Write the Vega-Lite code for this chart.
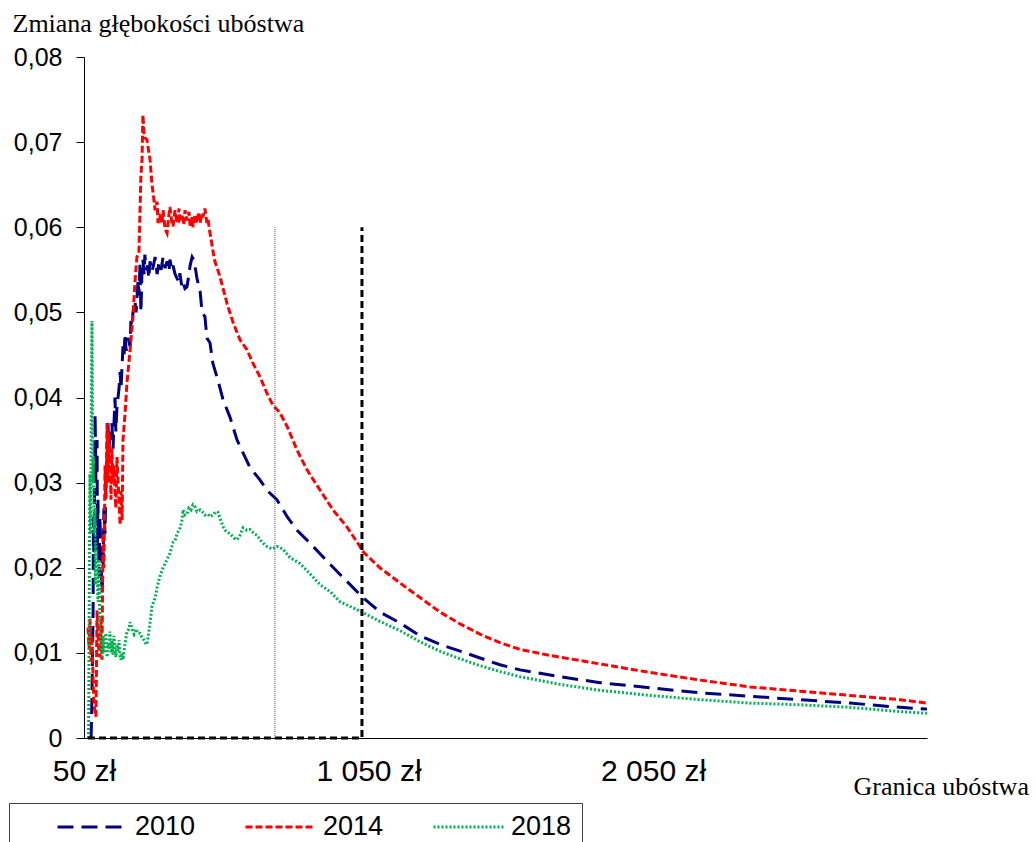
{
  "$schema": "https://vega.github.io/schema/vega-lite/v6.json",
  "autosize": {"type": "none"},
  "padding": {"left": 84, "top": 57, "right": 109, "bottom": 104},
  "width": 843,
  "height": 681,
  "background": "white",
  "config": {"view": {"stroke": null}},
  "datasets": {
    "curves": [
      {"year":"2010","zl":75,"value":0},{"year":"2010","zl":78,"value":0.005},{"year":"2010","zl":82,"value":0.015},{"year":"2010","zl":83,"value":0.026},{"year":"2010","zl":85,"value":0.02},{"year":"2010","zl":89,"value":0.038},{"year":"2010","zl":92,"value":0.03},{"year":"2010","zl":96,"value":0.035},{"year":"2010","zl":97,"value":0.022},{"year":"2010","zl":99,"value":0.028},{"year":"2010","zl":103,"value":0.019},{"year":"2010","zl":106,"value":0.026},{"year":"2010","zl":110,"value":0.021},{"year":"2010","zl":113,"value":0.017},{"year":"2010","zl":117,"value":0.02},{"year":"2010","zl":120,"value":0.027},{"year":"2010","zl":124,"value":0.024},{"year":"2010","zl":127,"value":0.03},{"year":"2010","zl":131,"value":0.033},{"year":"2010","zl":134,"value":0.037},{"year":"2010","zl":138,"value":0.034},{"year":"2010","zl":141,"value":0.036},{"year":"2010","zl":145,"value":0.035},{"year":"2010","zl":148,"value":0.037},{"year":"2010","zl":152,"value":0.034},{"year":"2010","zl":159,"value":0.04},{"year":"2010","zl":162,"value":0.036},{"year":"2010","zl":166,"value":0.039},{"year":"2010","zl":173,"value":0.041},{"year":"2010","zl":177,"value":0.043},{"year":"2010","zl":180,"value":0.041},{"year":"2010","zl":187,"value":0.046},{"year":"2010","zl":191,"value":0.045},{"year":"2010","zl":194,"value":0.0475},{"year":"2010","zl":198,"value":0.0455},{"year":"2010","zl":205,"value":0.047},{"year":"2010","zl":212,"value":0.046},{"year":"2010","zl":215,"value":0.049},{"year":"2010","zl":219,"value":0.0483},{"year":"2010","zl":222,"value":0.05},{"year":"2010","zl":226,"value":0.0505},{"year":"2010","zl":229,"value":0.0514},{"year":"2010","zl":233,"value":0.05},{"year":"2010","zl":240,"value":0.0538},{"year":"2010","zl":243,"value":0.052},{"year":"2010","zl":247,"value":0.0558},{"year":"2010","zl":250,"value":0.05},{"year":"2010","zl":254,"value":0.055},{"year":"2010","zl":257,"value":0.0562},{"year":"2010","zl":261,"value":0.0545},{"year":"2010","zl":264,"value":0.0568},{"year":"2010","zl":268,"value":0.055},{"year":"2010","zl":273,"value":0.0555},{"year":"2010","zl":278,"value":0.054},{"year":"2010","zl":282,"value":0.056},{"year":"2010","zl":289,"value":0.0548},{"year":"2010","zl":294,"value":0.0555},{"year":"2010","zl":300,"value":0.0565},{"year":"2010","zl":307,"value":0.0545},{"year":"2010","zl":314,"value":0.056},{"year":"2010","zl":321,"value":0.055},{"year":"2010","zl":328,"value":0.0565},{"year":"2010","zl":335,"value":0.0552},{"year":"2010","zl":342,"value":0.056},{"year":"2010","zl":349,"value":0.0548},{"year":"2010","zl":352,"value":0.0562},{"year":"2010","zl":359,"value":0.055},{"year":"2010","zl":363,"value":0.0555},{"year":"2010","zl":370,"value":0.0545},{"year":"2010","zl":377,"value":0.054},{"year":"2010","zl":384,"value":0.0535},{"year":"2010","zl":387,"value":0.0546},{"year":"2010","zl":394,"value":0.053},{"year":"2010","zl":398,"value":0.0535},{"year":"2010","zl":405,"value":0.0528},{"year":"2010","zl":412,"value":0.053},{"year":"2010","zl":419,"value":0.0545},{"year":"2010","zl":423,"value":0.0555},{"year":"2010","zl":430,"value":0.0565},{"year":"2010","zl":435,"value":0.0562},{"year":"2010","zl":440,"value":0.0555},{"year":"2010","zl":447,"value":0.054},{"year":"2010","zl":454,"value":0.053},{"year":"2010","zl":458,"value":0.0525},{"year":"2010","zl":465,"value":0.05},{"year":"2010","zl":475,"value":0.0495},{"year":"2010","zl":482,"value":0.047},{"year":"2010","zl":493,"value":0.0464},{"year":"2010","zl":503,"value":0.044},{"year":"2010","zl":521,"value":0.042},{"year":"2010","zl":539,"value":0.0397},{"year":"2010","zl":563,"value":0.0377},{"year":"2010","zl":588,"value":0.035},{"year":"2010","zl":609,"value":0.0335},{"year":"2010","zl":633,"value":0.0318},{"year":"2010","zl":669,"value":0.0303},{"year":"2010","zl":693,"value":0.0291},{"year":"2010","zl":728,"value":0.028},{"year":"2010","zl":764,"value":0.026},{"year":"2010","zl":799,"value":0.0244},{"year":"2010","zl":844,"value":0.0229},{"year":"2010","zl":915,"value":0.0204},{"year":"2010","zl":1027,"value":0.0166},{"year":"2010","zl":1090,"value":0.0148},{"year":"2010","zl":1161,"value":0.0135},{"year":"2010","zl":1231,"value":0.012},{"year":"2010","zl":1301,"value":0.011},{"year":"2010","zl":1372,"value":0.0102},{"year":"2010","zl":1442,"value":0.0094},{"year":"2010","zl":1512,"value":0.0086},{"year":"2010","zl":1583,"value":0.008},{"year":"2010","zl":1723,"value":0.0072},{"year":"2010","zl":1864,"value":0.0065},{"year":"2010","zl":2039,"value":0.0059},{"year":"2010","zl":2216,"value":0.0053},{"year":"2010","zl":2391,"value":0.0049},{"year":"2010","zl":2567,"value":0.0045},{"year":"2010","zl":2742,"value":0.0041},{"year":"2010","zl":2918,"value":0.0036},{"year":"2010","zl":3013,"value":0.0034},
      {"year":"2014","zl":64,"value":0.013},{"year":"2014","zl":68,"value":0.0105},{"year":"2014","zl":71,"value":0.014},{"year":"2014","zl":75,"value":0.009},{"year":"2014","zl":78,"value":0.012},{"year":"2014","zl":82,"value":0.007},{"year":"2014","zl":85,"value":0.004},{"year":"2014","zl":89,"value":0.003},{"year":"2014","zl":92,"value":0.0025},{"year":"2014","zl":96,"value":0.015},{"year":"2014","zl":99,"value":0.012},{"year":"2014","zl":103,"value":0.01},{"year":"2014","zl":106,"value":0.0095},{"year":"2014","zl":110,"value":0.014},{"year":"2014","zl":113,"value":0.0092},{"year":"2014","zl":117,"value":0.024},{"year":"2014","zl":120,"value":0.02},{"year":"2014","zl":124,"value":0.032},{"year":"2014","zl":127,"value":0.028},{"year":"2014","zl":131,"value":0.037},{"year":"2014","zl":134,"value":0.03},{"year":"2014","zl":138,"value":0.036},{"year":"2014","zl":141,"value":0.033},{"year":"2014","zl":145,"value":0.028},{"year":"2014","zl":148,"value":0.034},{"year":"2014","zl":152,"value":0.03},{"year":"2014","zl":155,"value":0.032},{"year":"2014","zl":159,"value":0.029},{"year":"2014","zl":162,"value":0.027},{"year":"2014","zl":166,"value":0.033},{"year":"2014","zl":170,"value":0.03},{"year":"2014","zl":173,"value":0.028},{"year":"2014","zl":177,"value":0.025},{"year":"2014","zl":180,"value":0.029},{"year":"2014","zl":184,"value":0.0256},{"year":"2014","zl":187,"value":0.035},{"year":"2014","zl":194,"value":0.038},{"year":"2014","zl":201,"value":0.0417},{"year":"2014","zl":212,"value":0.0456},{"year":"2014","zl":222,"value":0.0495},{"year":"2014","zl":229,"value":0.0535},{"year":"2014","zl":236,"value":0.0565},{"year":"2014","zl":243,"value":0.057},{"year":"2014","zl":247,"value":0.062},{"year":"2014","zl":250,"value":0.066},{"year":"2014","zl":254,"value":0.068},{"year":"2014","zl":257,"value":0.0732},{"year":"2014","zl":261,"value":0.071},{"year":"2014","zl":264,"value":0.0705},{"year":"2014","zl":271,"value":0.0703},{"year":"2014","zl":277,"value":0.069},{"year":"2014","zl":282,"value":0.068},{"year":"2014","zl":289,"value":0.065},{"year":"2014","zl":293,"value":0.064},{"year":"2014","zl":300,"value":0.062},{"year":"2014","zl":307,"value":0.063},{"year":"2014","zl":310,"value":0.0605},{"year":"2014","zl":317,"value":0.0612},{"year":"2014","zl":324,"value":0.0605},{"year":"2014","zl":328,"value":0.062},{"year":"2014","zl":335,"value":0.0598},{"year":"2014","zl":342,"value":0.0593},{"year":"2014","zl":347,"value":0.061},{"year":"2014","zl":352,"value":0.0624},{"year":"2014","zl":359,"value":0.0605},{"year":"2014","zl":363,"value":0.0601},{"year":"2014","zl":370,"value":0.062},{"year":"2014","zl":377,"value":0.0605},{"year":"2014","zl":384,"value":0.0622},{"year":"2014","zl":387,"value":0.061},{"year":"2014","zl":394,"value":0.0615},{"year":"2014","zl":401,"value":0.0603},{"year":"2014","zl":405,"value":0.062},{"year":"2014","zl":412,"value":0.0608},{"year":"2014","zl":419,"value":0.0618},{"year":"2014","zl":423,"value":0.0602},{"year":"2014","zl":430,"value":0.0612},{"year":"2014","zl":433,"value":0.06},{"year":"2014","zl":440,"value":0.0615},{"year":"2014","zl":447,"value":0.0605},{"year":"2014","zl":454,"value":0.0618},{"year":"2014","zl":458,"value":0.0605},{"year":"2014","zl":465,"value":0.0616},{"year":"2014","zl":468,"value":0.0612},{"year":"2014","zl":475,"value":0.0622},{"year":"2014","zl":482,"value":0.0605},{"year":"2014","zl":486,"value":0.0609},{"year":"2014","zl":493,"value":0.0593},{"year":"2014","zl":503,"value":0.0573},{"year":"2014","zl":510,"value":0.056},{"year":"2014","zl":528,"value":0.0542},{"year":"2014","zl":553,"value":0.051},{"year":"2014","zl":574,"value":0.0488},{"year":"2014","zl":598,"value":0.0468},{"year":"2014","zl":623,"value":0.0456},{"year":"2014","zl":644,"value":0.044},{"year":"2014","zl":669,"value":0.0424},{"year":"2014","zl":693,"value":0.0405},{"year":"2014","zl":714,"value":0.0391},{"year":"2014","zl":739,"value":0.0382},{"year":"2014","zl":764,"value":0.0366},{"year":"2014","zl":799,"value":0.0338},{"year":"2014","zl":834,"value":0.0315},{"year":"2014","zl":880,"value":0.0291},{"year":"2014","zl":925,"value":0.0268},{"year":"2014","zl":974,"value":0.0248},{"year":"2014","zl":1020,"value":0.0225},{"year":"2014","zl":1027,"value":0.022},{"year":"2014","zl":1090,"value":0.02},{"year":"2014","zl":1161,"value":0.0182},{"year":"2014","zl":1231,"value":0.0165},{"year":"2014","zl":1301,"value":0.0148},{"year":"2014","zl":1372,"value":0.0134},{"year":"2014","zl":1442,"value":0.0122},{"year":"2014","zl":1512,"value":0.0112},{"year":"2014","zl":1583,"value":0.0104},{"year":"2014","zl":1688,"value":0.0097},{"year":"2014","zl":1864,"value":0.0087},{"year":"2014","zl":2039,"value":0.0077},{"year":"2014","zl":2216,"value":0.0068},{"year":"2014","zl":2391,"value":0.006},{"year":"2014","zl":2567,"value":0.0055},{"year":"2014","zl":2742,"value":0.005},{"year":"2014","zl":2918,"value":0.0045},{"year":"2014","zl":3013,"value":0.0041},
      {"year":"2018","zl":66,"value":0},{"year":"2018","zl":68,"value":0.012},{"year":"2018","zl":69,"value":0.022},{"year":"2018","zl":71,"value":0.031},{"year":"2018","zl":73,"value":0.024},{"year":"2018","zl":75,"value":0.035},{"year":"2018","zl":78,"value":0.049},{"year":"2018","zl":80,"value":0.038},{"year":"2018","zl":82,"value":0.03},{"year":"2018","zl":83,"value":0.033},{"year":"2018","zl":85,"value":0.024},{"year":"2018","zl":89,"value":0.027},{"year":"2018","zl":90,"value":0.018},{"year":"2018","zl":92,"value":0.023},{"year":"2018","zl":96,"value":0.02},{"year":"2018","zl":99,"value":0.016},{"year":"2018","zl":103,"value":0.021},{"year":"2018","zl":106,"value":0.013},{"year":"2018","zl":110,"value":0.0105},{"year":"2018","zl":113,"value":0.0095},{"year":"2018","zl":117,"value":0.012},{"year":"2018","zl":120,"value":0.01},{"year":"2018","zl":124,"value":0.0115},{"year":"2018","zl":127,"value":0.0123},{"year":"2018","zl":131,"value":0.0095},{"year":"2018","zl":134,"value":0.011},{"year":"2018","zl":138,"value":0.0105},{"year":"2018","zl":141,"value":0.0125},{"year":"2018","zl":145,"value":0.01},{"year":"2018","zl":148,"value":0.0115},{"year":"2018","zl":152,"value":0.0098},{"year":"2018","zl":155,"value":0.012},{"year":"2018","zl":159,"value":0.0105},{"year":"2018","zl":162,"value":0.0095},{"year":"2018","zl":166,"value":0.011},{"year":"2018","zl":170,"value":0.0102},{"year":"2018","zl":173,"value":0.0115},{"year":"2018","zl":177,"value":0.0095},{"year":"2018","zl":180,"value":0.0092},{"year":"2018","zl":184,"value":0.01},{"year":"2018","zl":187,"value":0.0092},{"year":"2018","zl":194,"value":0.011},{"year":"2018","zl":201,"value":0.0125},{"year":"2018","zl":208,"value":0.0128},{"year":"2018","zl":212,"value":0.0136},{"year":"2018","zl":219,"value":0.0128},{"year":"2018","zl":226,"value":0.0122},{"year":"2018","zl":233,"value":0.0128},{"year":"2018","zl":240,"value":0.0123},{"year":"2018","zl":247,"value":0.0123},{"year":"2018","zl":254,"value":0.0118},{"year":"2018","zl":261,"value":0.0115},{"year":"2018","zl":268,"value":0.011},{"year":"2018","zl":271,"value":0.011},{"year":"2018","zl":275,"value":0.0118},{"year":"2018","zl":282,"value":0.0135},{"year":"2018","zl":289,"value":0.0155},{"year":"2018","zl":300,"value":0.0165},{"year":"2018","zl":307,"value":0.0177},{"year":"2018","zl":317,"value":0.019},{"year":"2018","zl":328,"value":0.02},{"year":"2018","zl":342,"value":0.021},{"year":"2018","zl":352,"value":0.0217},{"year":"2018","zl":359,"value":0.0225},{"year":"2018","zl":363,"value":0.023},{"year":"2018","zl":370,"value":0.0232},{"year":"2018","zl":377,"value":0.024},{"year":"2018","zl":387,"value":0.0246},{"year":"2018","zl":394,"value":0.0255},{"year":"2018","zl":398,"value":0.0268},{"year":"2018","zl":405,"value":0.0262},{"year":"2018","zl":412,"value":0.0263},{"year":"2018","zl":419,"value":0.027},{"year":"2018","zl":426,"value":0.0268},{"year":"2018","zl":433,"value":0.0274},{"year":"2018","zl":440,"value":0.0272},{"year":"2018","zl":447,"value":0.0266},{"year":"2018","zl":458,"value":0.0268},{"year":"2018","zl":468,"value":0.0265},{"year":"2018","zl":475,"value":0.0262},{"year":"2018","zl":486,"value":0.0263},{"year":"2018","zl":493,"value":0.026},{"year":"2018","zl":503,"value":0.0262},{"year":"2018","zl":514,"value":0.0266},{"year":"2018","zl":521,"value":0.0265},{"year":"2018","zl":528,"value":0.0258},{"year":"2018","zl":539,"value":0.0248},{"year":"2018","zl":549,"value":0.0243},{"year":"2018","zl":563,"value":0.024},{"year":"2018","zl":577,"value":0.0235},{"year":"2018","zl":588,"value":0.0233},{"year":"2018","zl":598,"value":0.0238},{"year":"2018","zl":609,"value":0.0247},{"year":"2018","zl":623,"value":0.0244},{"year":"2018","zl":633,"value":0.0245},{"year":"2018","zl":648,"value":0.024},{"year":"2018","zl":658,"value":0.0238},{"year":"2018","zl":676,"value":0.023},{"year":"2018","zl":693,"value":0.0225},{"year":"2018","zl":711,"value":0.0222},{"year":"2018","zl":728,"value":0.0225},{"year":"2018","zl":749,"value":0.0222},{"year":"2018","zl":774,"value":0.0212},{"year":"2018","zl":809,"value":0.0205},{"year":"2018","zl":844,"value":0.0193},{"year":"2018","zl":880,"value":0.018},{"year":"2018","zl":915,"value":0.0172},{"year":"2018","zl":950,"value":0.016},{"year":"2018","zl":1027,"value":0.0148},{"year":"2018","zl":1090,"value":0.0137},{"year":"2018","zl":1161,"value":0.0126},{"year":"2018","zl":1231,"value":0.0113},{"year":"2018","zl":1301,"value":0.0102},{"year":"2018","zl":1372,"value":0.0093},{"year":"2018","zl":1442,"value":0.0085},{"year":"2018","zl":1512,"value":0.0078},{"year":"2018","zl":1583,"value":0.0072},{"year":"2018","zl":1723,"value":0.0063},{"year":"2018","zl":1864,"value":0.0056},{"year":"2018","zl":2039,"value":0.005},{"year":"2018","zl":2216,"value":0.0045},{"year":"2018","zl":2391,"value":0.0041},{"year":"2018","zl":2567,"value":0.0039},{"year":"2018","zl":2742,"value":0.0036},{"year":"2018","zl":2918,"value":0.0031},{"year":"2018","zl":3013,"value":0.0029}
    ],
    "refs": [
      {"ref":"thin","k":1,"zl":721,"value":0},
      {"ref":"thin","k":2,"zl":721,"value":0.06},
      {"ref":"dash","k":1,"zl":64,"value":0},
      {"ref":"dash","k":2,"zl":1027,"value":0},
      {"ref":"dash","k":3,"zl":1027,"value":0.06}
    ]
  },
  "layer": [
    {
      "data": {"name": "curves"},
      "mark": {"type": "line", "strokeWidth": 3, "clip": true},
      "encoding": {
        "x": {
          "field": "zl", "type": "quantitative",
          "scale": {"domain": [50, 3013], "nice": false, "zero": false},
          "axis": {
            "values": [50, 1050, 2050],
            "labelExpr": "replace(format(datum.value, ','), ',', ' ') + ' zł'",
            "ticks": false,
            "grid": false,
            "domainColor": "black",
            "domainWidth": 1,
            "labelFont": "Liberation Sans",
            "labelFontSize": 30,
            "labelColor": "black",
            "labelPadding": 18,
            "labelFlush": false,
            "labelBound": false,
            "labelOverlap": false,
            "title": "Granica ubóstwa",
            "titleFont": "Liberation Serif",
            "titleFontSize": 26,
            "titleFontWeight": "normal",
            "titleColor": "black",
            "titleAlign": "left",
            "titleBaseline": "alphabetic",
            "titleX": 769,
            "titleY": 56
          }
        },
        "y": {
          "field": "value", "type": "quantitative",
          "scale": {"domain": [0, 0.08], "nice": false},
          "axis": {
            "values": [0, 0.01, 0.02, 0.03, 0.04, 0.05, 0.06, 0.07, 0.08],
            "labelExpr": "datum.value == 0 ? '0' : replace(format(datum.value, '.2f'), '.', ',')",
            "grid": false,
            "domainColor": "black",
            "tickColor": "black",
            "tickSize": 8,
            "labelFont": "Liberation Sans",
            "labelFontSize": 25,
            "labelColor": "black",
            "labelPadding": 14,
            "labelFlush": false,
            "labelOverlap": false,
            "title": "Zmiana głębokości ubóstwa",
            "titleAngle": 0,
            "titleFont": "Liberation Serif",
            "titleFontSize": 26,
            "titleFontWeight": "normal",
            "titleColor": "black",
            "titleAlign": "left",
            "titleBaseline": "alphabetic",
            "titleX": -72,
            "titleY": -26
          }
        },
        "color": {
          "field": "year", "type": "nominal",
          "scale": {"domain": ["2010", "2014", "2018"], "range": ["#000080", "#FF0000", "#00B050"]},
          "legend": {
            "orient": "none",
            "legendX": -75,
            "legendY": 746,
            "direction": "horizontal",
            "title": " ",
            "titleOrient": "left",
            "titlePadding": 37,
            "titleFontSize": 27,
            "symbolType": "stroke",
            "symbolSize": 4900,
            "symbolStrokeWidth": 3,
            "clipHeight": 28,
            "labelFont": "Liberation Sans",
            "labelFontSize": 27,
            "labelColor": "black",
            "labelOffset": 6,
            "columnPadding": 48,
            "padding": 10,
            "strokeColor": "#404040",
            "fillColor": "white"
          }
        },
        "strokeDash": {
          "field": "year", "type": "nominal",
          "scale": {"domain": ["2010", "2014", "2018"], "range": [[16, 8], [7, 3], [2, 2]]},
          "legend": null
        }
      }
    },
    {
      "data": {"name": "refs"},
      "transform": [{"filter": "datum.ref == 'thin'"}],
      "mark": {"type": "line", "color": "#555555", "strokeWidth": 1, "strokeDash": [1, 1]},
      "encoding": {
        "x": {"field": "zl", "type": "quantitative"},
        "y": {"field": "value", "type": "quantitative"},
        "order": {"field": "k"}
      }
    },
    {
      "data": {"name": "refs"},
      "transform": [{"filter": "datum.ref == 'dash'"}],
      "mark": {"type": "line", "color": "black", "strokeWidth": 3, "strokeDash": [7, 4]},
      "encoding": {
        "x": {"field": "zl", "type": "quantitative"},
        "y": {"field": "value", "type": "quantitative"},
        "order": {"field": "k"}
      }
    }
  ]
}
